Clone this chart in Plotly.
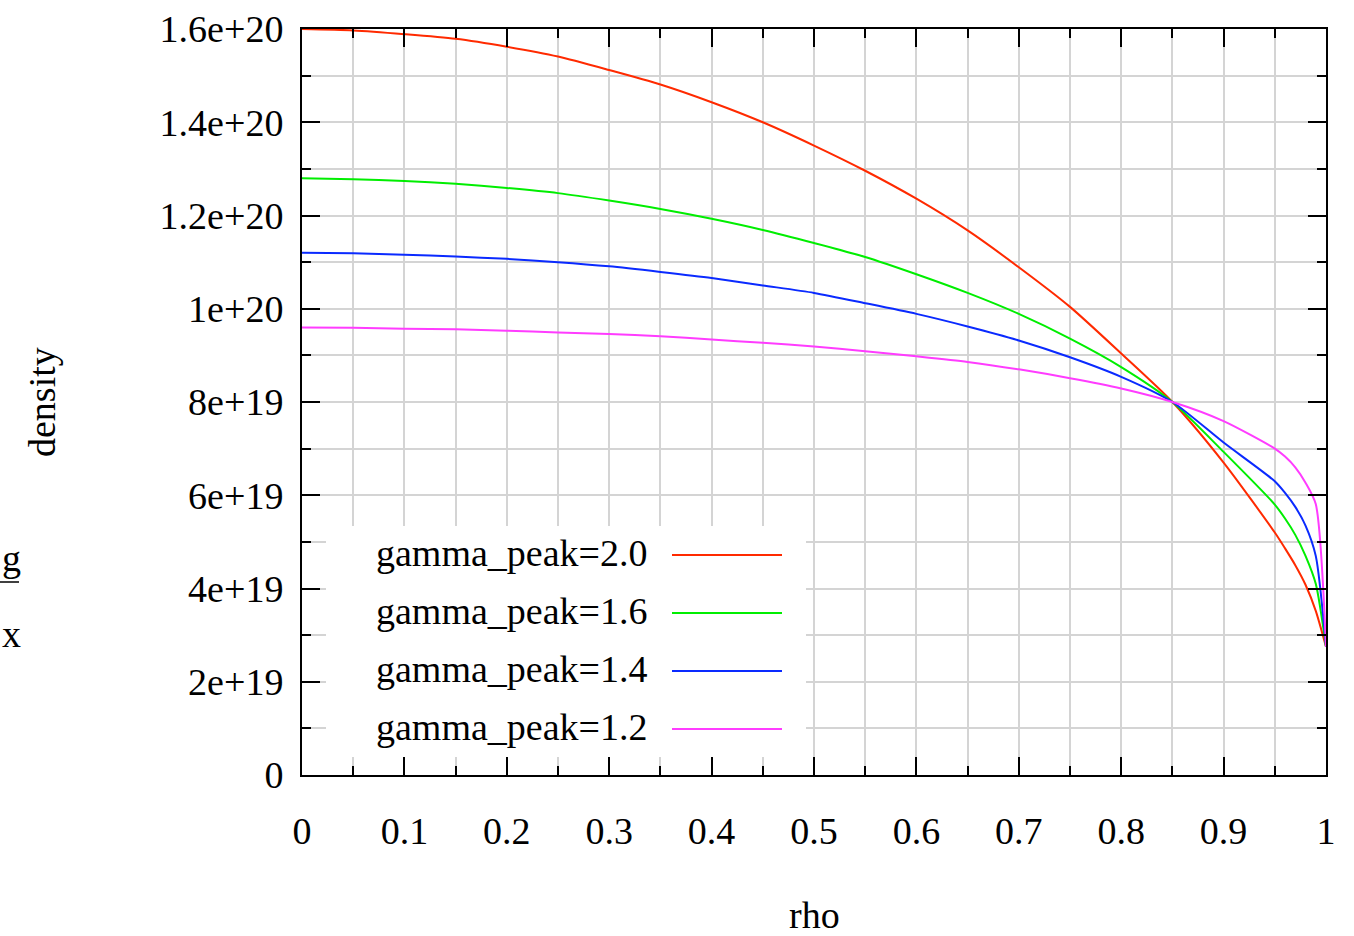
import plotly.graph_objects as go

# ---- data (density in units of 1e19) ----
rho = [0.0, 0.05, 0.10, 0.15, 0.20, 0.25, 0.30, 0.35, 0.40, 0.45, 0.50,
       0.55, 0.60, 0.65, 0.70, 0.75, 0.80, 0.85, 0.90, 0.95,
       0.96, 0.97, 0.98, 0.99, 1.0]

n_gp20 = [16.0, 15.97, 15.89, 15.79, 15.62, 15.41, 15.12, 14.81, 14.43, 14.0, 13.5,
          12.96, 12.36, 11.68, 10.89, 10.04, 9.04, 8.0, 6.7, 5.2,
          4.86, 4.5, 4.08, 3.52, 2.75]
n_gp16 = [12.8, 12.78, 12.74, 12.68, 12.59, 12.48, 12.32, 12.14, 11.93, 11.69, 11.41,
          11.11, 10.74, 10.34, 9.89, 9.36, 8.75, 8.0, 6.93, 5.8,
          5.5, 5.15, 4.7, 4.1, 2.75]
n_gp14 = [11.2, 11.19, 11.16, 11.12, 11.07, 11.0, 10.91, 10.79, 10.66, 10.5, 10.34,
          10.12, 9.89, 9.62, 9.32, 8.96, 8.54, 8.0, 7.13, 6.3,
          6.05, 5.75, 5.35, 4.7, 2.75]
n_gp12 = [9.6, 9.59, 9.57, 9.56, 9.53, 9.49, 9.46, 9.41, 9.34, 9.27, 9.19,
          9.09, 8.98, 8.86, 8.70, 8.51, 8.29, 8.0, 7.59, 7.0,
          6.83, 6.6, 6.27, 5.81, 2.75]

series_names = ["gamma_peak=2.0", "gamma_peak=1.6", "gamma_peak=1.4", "gamma_peak=1.2"]
series_vals = [n_gp20, n_gp16, n_gp14, n_gp12]
colors = ["#ff2a00", "#00ee00", "#0a2aff", "#ff3cff"]

x_tickvals = [0, 0.1, 0.2, 0.3, 0.4, 0.5, 0.6, 0.7, 0.8, 0.9, 1.0]
x_ticktext = ["0", "0.1", "0.2", "0.3", "0.4", "0.5", "0.6", "0.7", "0.8", "0.9", "1"]
y_tickvals = [0, 2e19, 4e19, 6e19, 8e19, 1e20, 1.2e20, 1.4e20, 1.6e20]
y_ticktext = ["0", "2e+19", "4e+19", "6e+19", "8e+19", "1e+20", "1.2e+20", "1.4e+20", "1.6e+20"]

FONT = "Liberation Serif"
FS = 38

fig = go.Figure()
for name, vals, col in zip(series_names, series_vals, colors):
    fig.add_trace(go.Scatter(
        x=rho, y=[v * 1e19 for v in vals], mode="lines", name=name,
        line=dict(color=col, width=2, shape="spline", smoothing=0.7),
        showlegend=False))

# plot area in pixels
W, H = 1354, 936
L, R, T, B = 302, 28, 29, 161
pw, ph = W - L - R, H - T - B

def px(x):
    return (x - L) / pw

def py(y):
    return (H - B - y) / ph

grid_col = "#d4d4d4"
fig.update_xaxes(
    range=[0, 1], tickvals=x_tickvals, ticktext=x_ticktext,
    ticks="inside", ticklen=18, tickwidth=2, tickcolor="black",
    showline=True, linecolor="black", linewidth=2, mirror="ticks",
    showgrid=True, gridcolor=grid_col, gridwidth=2, zeroline=False,
    tickfont=dict(family=FONT, size=FS, color="black"),
    ticklabelstandoff=21,
    minor=dict(dtick=0.05, ticks="inside", ticklen=9, tickwidth=2, tickcolor="black",
               showgrid=True, gridcolor=grid_col, gridwidth=2),
)
fig.update_yaxes(
    range=[0, 1.6e20], tickvals=y_tickvals, ticktext=y_ticktext,
    ticks="inside", ticklen=18, tickwidth=2, tickcolor="black",
    showline=True, linecolor="black", linewidth=2, mirror="ticks",
    showgrid=True, gridcolor=grid_col, gridwidth=2, zeroline=False,
    tickfont=dict(family=FONT, size=FS, color="black"),
    ticklabelstandoff=9,
    minor=dict(dtick=1e19, ticks="inside", ticklen=9, tickwidth=2, tickcolor="black",
               showgrid=True, gridcolor=grid_col, gridwidth=2),
)

shapes = []
annotations = []
# legend box (white, covers the grid)
shapes.append(dict(type="rect", xref="paper", yref="paper",
                   x0=px(326), x1=px(806), y0=py(757), y1=py(526),
                   fillcolor="white", line=dict(width=0), layer="above"))
leg_y = [555, 613, 671, 729]
for name, col, yy in zip(series_names, colors, leg_y):
    shapes.append(dict(type="line", xref="paper", yref="paper",
                       x0=px(672), x1=px(782), y0=py(yy), y1=py(yy),
                       line=dict(color=col, width=2), layer="above"))
    annotations.append(dict(text=name, xref="paper", yref="paper",
                            x=px(650), y=py(yy - 2), xanchor="right", yanchor="middle",
                            showarrow=False, font=dict(family=FONT, size=FS, color="black")))

# axis titles
annotations.append(dict(text="density", xref="paper", yref="paper",
                        x=px(42), y=py(402), xanchor="center", yanchor="middle",
                        textangle=-90, showarrow=False,
                        font=dict(family=FONT, size=FS, color="black")))
annotations.append(dict(text="rho", xref="paper", yref="paper",
                        x=px(814), y=py(915), xanchor="center", yanchor="middle",
                        showarrow=False, font=dict(family=FONT, size=FS, color="black")))
# stray clipped label fragments at the far left
annotations.append(dict(text="g", xref="paper", yref="paper",
                        x=px(0), y=py(558), xanchor="left", yanchor="middle",
                        showarrow=False, font=dict(family=FONT, size=FS, color="black")))
annotations.append(dict(text="x", xref="paper", yref="paper",
                        x=px(0), y=py(634), xanchor="left", yanchor="middle",
                        showarrow=False, font=dict(family=FONT, size=FS, color="black")))
shapes.append(dict(type="line", xref="paper", yref="paper",
                   x0=px(0), x1=px(19), y0=py(582), y1=py(582),
                   line=dict(color="black", width=1.5)))

fig.update_layout(
    width=W, height=H,
    margin=dict(l=L, r=R, t=T, b=B, autoexpand=False),
    paper_bgcolor="white", plot_bgcolor="white",
    shapes=shapes, annotations=annotations, showlegend=False,
)

fig.write_html("out.html")
